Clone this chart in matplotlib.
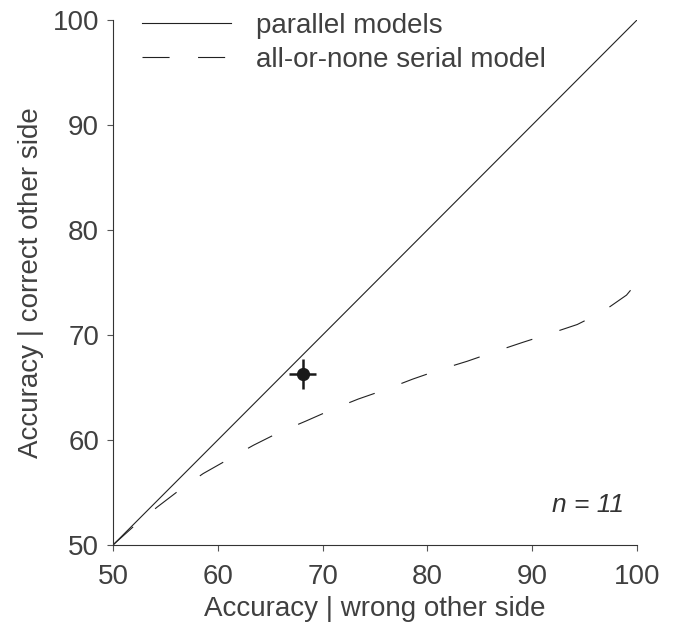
import matplotlib
matplotlib.use('Agg')
import matplotlib.pyplot as plt
import numpy as np

# serial model prediction (dashed curve)
serial_x = [50, 52, 54.2, 56.3, 58.6, 60.9, 63.4, 65.8, 68.4, 70.9, 73.4, 76.0,
            78.6, 81.2, 83.8, 86.4, 89.1, 91.6, 94.3, 96.7, 99.0, 100]
serial_y = [50, 51.8, 53.6, 55.2, 56.8, 58.1, 59.5, 60.7, 61.8, 62.9, 63.9, 64.8,
            65.8, 66.7, 67.5, 68.4, 69.3, 70.1, 71.0, 72.2, 73.8, 75.0]

# parallel models: identity line
parallel_x = [50, 100]
parallel_y = [50, 100]

# observed mean with error bars
obs_x = [68.1]
obs_y = [66.3]
obs_xerr = [1.3]
obs_yerr = [1.4]

ticks = [50, 60, 70, 80, 90, 100]

plt.rcParams['font.family'] = ['Liberation Sans', 'DejaVu Sans']
plt.rcParams['lines.scale_dashes'] = False
txt = '#404040'

fig = plt.figure(figsize=(6.79, 6.31), dpi=100)
ax = fig.add_axes([113/679, 1 - 545/631, (637-113)/679, (545-20)/631])

ax.plot(parallel_x, parallel_y, color='#222222', lw=0.8, label='parallel models')
ax.plot(serial_x, serial_y, color='#222222', lw=0.8, dashes=(19.5, 20.5),
        label='all-or-none serial model')
ax.errorbar(obs_x, obs_y, xerr=obs_xerr, yerr=obs_yerr, fmt='o', color='#1a1a1a',
            ms=8.5, elinewidth=1.8, capsize=0, zorder=5)

ax.set_xlim(50, 100)
ax.set_ylim(50, 100)
ax.set_xticks(ticks)
ax.set_yticks(ticks)
ax.spines['top'].set_visible(False)
ax.spines['right'].set_visible(False)
for s in ['left', 'bottom']:
    ax.spines[s].set_linewidth(0.8)
    ax.spines[s].set_color('#333333')
ax.tick_params(direction='out', length=4, width=0.8, color='#555555',
               labelsize=20, labelcolor=txt)
ax.tick_params(axis='x', pad=10)
ax.tick_params(axis='y', pad=6)

ax.set_xlabel('Accuracy | wrong other side', fontsize=20, color=txt, labelpad=4)
ax.set_ylabel('Accuracy | correct other side', fontsize=20, color=txt, labelpad=6)

ax.text(98.8, 53.8, 'n = 11', fontsize=19, style='italic', color='#333333',
        ha='right', va='center')

leg = ax.legend(loc='upper left', bbox_to_anchor=(0.035, 1.035), frameon=False,
                fontsize=20, handlelength=3.2, handletextpad=0.9, labelspacing=0.28,
                borderaxespad=0.0)
for t in leg.get_texts():
    t.set_color(txt)

fig.savefig('out.png', dpi=100)
